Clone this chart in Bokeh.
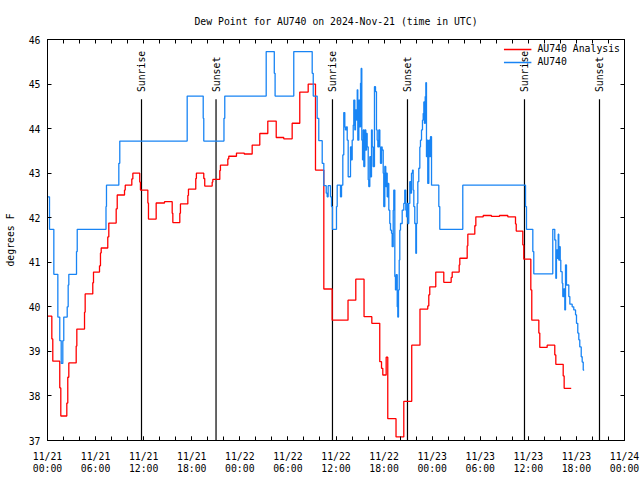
import math
from bokeh.plotting import figure
from bokeh.models import FixedTicker, LinearAxis, Range1d, Legend, LegendItem, ColumnDataSource
from bokeh.embed import file_html
from bokeh.resources import INLINE
from bokeh.core.properties import value

# ---------------- data (hours since 2024-11-21 00:00 UTC, degrees F) ----------------
analysis_hours = [0.0, 0.54, 0.66, 1.53, 1.66, 2.41, 2.53, 2.66, 3.58, 3.66, 4.62, 4.70, 5.65, 5.74,
                  6.49, 6.61, 6.70, 7.52, 7.65, 8.57, 8.70, 9.61, 9.70, 10.52, 10.65, 11.51, 11.60,
                  12.52, 12.60, 13.56, 14.60, 15.56, 15.64, 16.51, 16.59, 17.51, 17.59, 18.50, 18.58,
                  19.50, 19.62, 20.55, 20.63, 21.50, 21.58, 22.50, 22.62, 23.58, 24.55, 25.54, 26.49,
                  27.49, 28.54, 29.48, 30.53, 31.48, 32.53, 33.44, 34.48, 35.52, 37.50, 38.47, 39.50,
                  40.47, 41.46, 41.68, 41.84, 42.26, 42.46, 43.49, 44.46, 45.45, 46.48, 47.45, 47.58,
                  47.70, 48.45, 49.45, 50.37, 50.50, 51.37, 51.45, 52.37, 52.45, 53.32, 53.45, 54.37,
                  55.40, 56.40, 57.44, 58.40, 58.49, 59.31, 59.43, 60.31, 60.43, 61.31, 61.43, 62.35,
                  63.30, 63.43, 64.35, 64.47, 65.35]
analysis_dewpt = [39.79, 39.28, 38.78, 38.18, 37.55, 37.84, 38.42, 38.74, 39.12, 39.50, 39.88, 40.29, 40.54, 40.78,
                  40.92, 41.21, 41.32, 41.57, 41.88, 42.20, 42.51, 42.62, 42.73, 42.87, 43.00, 42.80, 42.62,
                  42.33, 41.97, 42.33, 42.36, 42.10, 41.89, 42.10, 42.31, 42.50, 42.64, 42.88, 43.00,
                  42.88, 42.71, 42.80, 42.86, 43.06, 43.18, 43.32, 43.38, 43.45, 43.43, 43.63, 43.89,
                  44.17, 43.80, 43.77, 44.12, 44.82, 45.00, 43.07, 40.40, 39.70, 40.15, 40.62, 39.78,
                  39.63, 38.77, 38.62, 38.47, 38.87, 37.49, 37.08, 37.88, 39.14, 39.95, 40.02, 40.27,
                  40.45, 40.78, 40.55, 40.66, 40.78, 40.94, 41.09, 41.37, 41.63, 41.82, 42.02, 42.05,
                  42.03, 42.05, 42.02, 41.86, 41.70, 41.39, 41.07, 40.38, 39.70, 39.41, 39.09, 39.14,
                  38.92, 38.71, 38.45, 38.17, 38.17]

obs_hours = [0.0, 0.25, 0.79, 1.29, 1.53, 1.71, 1.91, 2.03, 2.46, 2.58, 2.66, 3.62, 3.71, 7.30, 7.36,
             8.90, 9.02, 17.43, 19.43, 19.50, 22.02, 22.12, 27.29, 28.30, 28.40, 30.73, 33.03, 33.16,
             33.65, 33.85, 34.28, 34.48, 34.78, 34.90, 35.02, 35.31, 35.44, 35.56, 36.06, 36.15,
             36.56, 36.69, 36.85, 36.97, 37.10, 37.18, 37.31, 37.40, 37.52, 37.81, 37.93, 38.02,
             38.15, 38.22, 38.35, 38.43, 38.56, 38.65, 38.72, 38.85, 38.97, 39.06, 39.14, 39.22,
             39.31, 39.40, 39.47, 39.59, 39.72, 39.81, 39.89, 40.02, 40.09, 40.22, 40.31, 40.43,
             40.52, 40.64, 40.80, 40.93, 41.05, 41.14, 41.22, 41.34, 41.47, 41.55, 41.68, 41.76,
             41.89, 41.96, 42.09, 42.21, 42.30, 42.39, 42.46, 42.59, 42.71, 42.80, 42.93, 43.01,
             43.14, 43.21, 43.34, 43.42, 43.51, 43.64, 43.71, 43.80, 43.89, 43.96, 44.05, 44.26,
             44.46, 44.58, 44.71, 44.80, 44.88, 44.96, 45.08, 45.21, 45.30, 45.42, 45.55, 45.63,
             45.71, 45.83, 45.96, 46.04, 46.13, 46.21, 46.33, 46.46, 46.54, 46.67, 46.79, 46.88,
             46.96, 47.04, 47.13, 47.21, 47.29, 47.38, 47.45, 47.58, 47.70, 47.79, 47.92, 48.83,
             48.95, 51.82, 59.65, 59.77, 60.56, 60.68, 63.05, 63.30, 63.43, 63.51, 63.64, 63.73,
             63.80, 63.89, 63.98, 64.05, 64.22, 64.30, 64.43, 64.55, 64.64, 64.76, 65.05, 65.18,
             65.47, 65.67, 65.89, 66.01, 66.17, 66.30, 66.42, 66.60, 66.72, 66.85, 66.97]
obs_dewpt = [42.47, 41.74, 40.73, 39.77, 39.24, 38.73, 39.24, 39.77, 40.00, 40.49, 40.73, 41.24, 41.74, 42.25, 42.73,
             43.22, 43.72, 44.73, 44.23, 43.72, 44.23, 44.73, 45.73, 45.24, 44.73, 45.73, 45.24, 44.73,
             44.23, 43.73, 43.22, 42.72, 42.55, 42.47, 42.72, 42.47, 42.25, 41.74, 42.25, 42.73,
             42.47, 42.73, 43.41, 44.36, 44.04, 43.97, 44.04, 43.74, 42.92, 43.59, 43.30, 43.74,
             44.08, 44.64, 43.97, 44.42, 44.19, 44.87, 43.74, 44.64, 44.04, 45.02, 45.35, 43.74,
             43.30, 43.97, 43.15, 43.97, 43.52, 43.89, 43.59, 42.85, 42.70, 43.37, 42.92, 43.97,
             43.59, 43.15, 44.94, 44.83, 43.97, 43.74, 43.59, 43.97, 43.59, 43.22, 43.59, 43.52,
             43.00, 42.25, 43.15, 42.70, 43.00, 42.47, 42.77, 42.17, 41.87, 41.72, 41.65, 41.35,
             42.17, 42.62, 40.68, 40.38, 40.72, 40.00, 39.77, 40.38, 41.05, 41.72, 41.87, 42.17,
             42.32, 42.62, 42.17, 42.02, 42.32, 41.87, 42.32, 42.81, 42.55, 43.00, 43.07, 42.62,
             42.25, 41.87, 41.20, 41.87, 42.32, 42.81, 43.11, 43.59, 43.74, 43.97, 44.19, 44.34,
             44.60, 44.12, 44.72, 45.03, 43.37, 43.74, 42.77, 43.74, 43.37, 43.82, 42.73, 42.25,
             41.74, 42.73, 42.25, 41.74, 41.24, 40.74, 41.74, 41.50, 40.64, 41.28, 41.09, 41.63,
             41.05, 41.35, 41.05, 40.79, 40.53, 40.23, 40.40, 39.93, 40.94, 40.49, 40.23, 40.06,
             40.00, 39.93, 39.82, 39.63, 39.41, 39.26, 39.10, 38.88, 38.76, 38.58, 38.58]

sun_hours = [11.73, 21.03, 35.56, 44.92, 59.52, 68.88]
sun_labels = ["Sunrise", "Sunset", "Sunrise", "Sunset", "Sunrise", "Sunset"]

x_tick_hours = [0, 6, 12, 18, 24, 30, 36, 42, 48, 54, 60, 66, 72]
x_tick_labels = ["11/21\n00:00", "11/21\n06:00", "11/21\n12:00", "11/21\n18:00",
                 "11/22\n00:00", "11/22\n06:00", "11/22\n12:00", "11/22\n18:00",
                 "11/23\n00:00", "11/23\n06:00", "11/23\n12:00", "11/23\n18:00",
                 "11/24\n00:00"]
x_minor_hours = list(range(0, 73, 2))
y_ticks = [37, 38, 39, 40, 41, 42, 43, 44, 45, 46]

# ---------------- style ----------------
FONT = "DejaVu Sans Mono"
FS = "9.8px"
RED = "#ff0000"
BLUE = "#1884f4"
Y_MIN, Y_MAX = 37, 46
SUN_LINE_TOP = 44.66
SUN_LABEL_BASE = 44.82

p = figure(width=640, height=480, output_backend="svg", toolbar_location=None,
           x_range=Range1d(0, 72), y_range=Range1d(Y_MIN, Y_MAX),
           min_border_left=47, min_border_right=16, min_border_top=39, min_border_bottom=40,
           title="Dew Point for AU740 on 2024-Nov-21 (time in UTC)")
p.title.text_font = FONT
p.title.text_font_size = FS
p.title.text_font_style = "normal"
p.title.text_color = "black"
p.title.align = "center"
p.title.standoff = 26
p.grid.visible = False
p.outline_line_color = "black"
p.outline_line_width = 1
p.background_fill_color = "white"
p.border_fill_color = "white"

xa = p.below[0]
xa.ticker = FixedTicker(ticks=x_tick_hours, minor_ticks=x_minor_hours)
xa.major_label_overrides = {h: lbl for h, lbl in zip(x_tick_hours, x_tick_labels)}
xa.major_label_text_line_height = 1.1
ya = p.left[0]
ya.ticker = FixedTicker(ticks=y_ticks, minor_ticks=[])
ya.axis_label = "degrees F"
ya.axis_label_text_font = FONT
ya.axis_label_text_font_size = FS
ya.axis_label_text_font_style = "normal"
ya.axis_label_text_color = "black"
ya.axis_label_standoff = 10
for ax in (xa, ya):
    ax.major_label_text_font = FONT
    ax.major_label_text_font_size = FS
    ax.major_label_text_color = "black"
    ax.major_tick_in = 4
    ax.major_tick_out = 0
    ax.minor_tick_in = 4
    ax.minor_tick_out = 0
    ax.axis_line_color = "black"
    ax.major_tick_line_color = "black"
    ax.minor_tick_line_color = "black"
xa.major_label_standoff = 10
ya.major_label_standoff = 7

# mirrored tick marks on the top and right frame edges (minor ticks only: no labels)
top = LinearAxis(ticker=FixedTicker(ticks=[], minor_ticks=x_minor_hours),
                 major_tick_in=0, major_tick_out=0, minor_tick_in=4, minor_tick_out=0,
                 minor_tick_line_color="black")
right = LinearAxis(ticker=FixedTicker(ticks=[], minor_ticks=y_ticks),
                   major_tick_in=0, major_tick_out=0, minor_tick_in=4, minor_tick_out=0,
                   minor_tick_line_color="black")
p.add_layout(top, "above")
p.add_layout(right, "right")

# sunrise / sunset markers
sun_src = ColumnDataSource(dict(x=sun_hours, y0=[Y_MIN] * len(sun_hours),
                                y1=[SUN_LINE_TOP] * len(sun_hours),
                                yl=[SUN_LABEL_BASE] * len(sun_hours), t=sun_labels))
p.segment(x0="x", y0="y0", x1="x", y1="y1", source=sun_src, line_color="black", line_width=1.2)
p.text(x="x", y="yl", text="t", source=sun_src, angle=math.pi / 2,
       text_align="left", text_baseline="middle",
       text_font=value(FONT), text_font_size=value(FS), text_color="black")

r_red = p.step(analysis_hours, analysis_dewpt, mode="after", line_color=RED, line_width=1.3)
r_blue = p.step(obs_hours, obs_dewpt, mode="after", line_color=BLUE, line_width=1.3)

legend = Legend(items=[LegendItem(label="AU740 Analysis", renderers=[r_red]),
                       LegendItem(label="AU740", renderers=[r_blue])],
                location="top_right", border_line_color=None, background_fill_alpha=0,
                label_text_font=FONT, label_text_font_size=FS, label_text_color="black",
                glyph_width=28, glyph_height=10,
                label_height=10, spacing=2, padding=3, margin=4, label_standoff=6)
p.add_layout(legend)

open("out.html", "w").write(file_html(p, INLINE))
